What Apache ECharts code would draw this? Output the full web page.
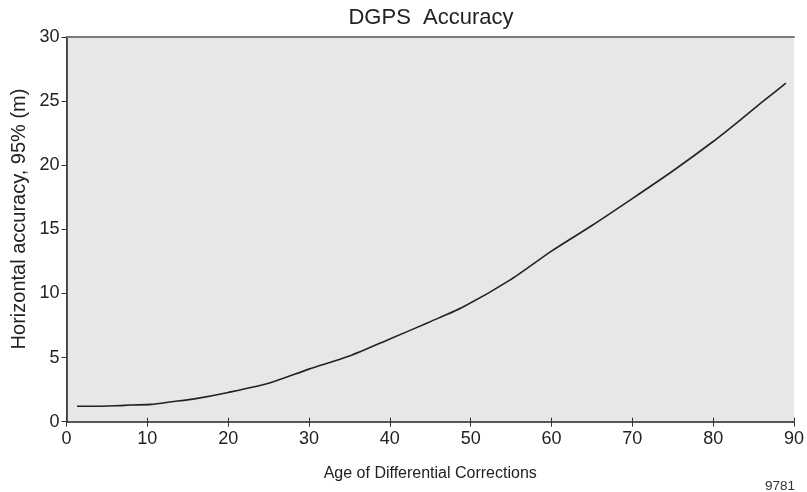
<!DOCTYPE html>
<html>
<head>
<meta charset="utf-8">
<script src="https://cdn.jsdelivr.net/npm/echarts@6/dist/echarts.min.js"></script>
<style>html,body{margin:0;padding:0;background:#fff}#c{width:807px;height:492px}</style>
</head>
<body>
<div id="c"></div>
<script>
const ageValues = [1.3, 3, 6, 8, 10.5, 13, 16, 20, 25, 30, 35, 40, 45, 49, 55, 60, 65, 70, 75, 80, 83, 86, 89];
const accuracyValues = [1.2, 1.2, 1.24, 1.3, 1.35, 1.55, 1.8, 2.28, 3.0, 4.1, 5.12, 6.45, 7.8, 8.92, 11.1, 13.3, 15.3, 17.4, 19.55, 21.85, 23.35, 24.9, 26.4];
const xTicks = [0, 10, 20, 30, 40, 50, 60, 70, 80, 90];
const yTicks = [0, 5, 10, 15, 20, 25, 30];
const titleText = 'DGPS  Accuracy';
const xName = 'Age of Differential Corrections';
const yName = 'Horizontal accuracy, 95% (m)';
const figId = '9781';

const font = 'Liberation Sans, Arial, Helvetica, sans-serif';
const chart = echarts.init(document.getElementById('c'));
const pts = ageValues.map((x, i) => [x, accuracyValues[i]]);
chart.setOption({
  animation: false,
  title: [{
    text: titleText, left: 426, top: 2, textAlign: 'center',
    textStyle: {fontFamily: font, fontSize: 22, fontWeight: 'normal', color: '#222'}
  }, {
    text: figId, right: 7, top: 474,
    textStyle: {fontFamily: font, fontSize: 13.5, fontWeight: 'normal', color: '#333'}
  }],
  graphic: [{
    type: 'text', x: 19, y: 219, rotation: Math.PI / 2,
    style: {text: yName, fontFamily: font, fontSize: 20, fill: '#222',
            textAlign: 'center', textVerticalAlign: 'middle'}
  }],
  grid: {left: 66.5, right: 12.5, top: 37, bottom: 70.3, show: true,
         backgroundColor: '#e6e7e9', borderWidth: 0},
  xAxis: [{
    type: 'value', min: xTicks[0], max: xTicks[xTicks.length-1], interval: 10,
    position: 'bottom',
    name: xName, nameLocation: 'middle', nameGap: 44,
    nameTextStyle: {fontFamily: font, fontSize: 16, color: '#222'},
    axisLine: {show: true, lineStyle: {color: '#222', width: 1.5}},
    axisTick: {show: true, length: 5, inside: false, lineStyle: {color: '#333', width: 1}},
    axisLabel: {fontFamily: font, fontSize: 18, color: '#222', margin: 8},
    splitLine: {show: false}
  }, {
    type: 'value', min: xTicks[0], max: xTicks[xTicks.length-1], interval: 10,
    position: 'bottom',
    axisLine: {show: false},
    axisTick: {show: true, length: 4, inside: true, lineStyle: {color: '#333', width: 1}},
    axisLabel: {show: false},
    splitLine: {show: false}
  }, {
    type: 'value', min: xTicks[0], max: xTicks[xTicks.length-1],
    position: 'top',
    axisLine: {show: true, lineStyle: {color: '#7a7a7a', width: 2}},
    axisTick: {show: false}, axisLabel: {show: false}, splitLine: {show: false}
  }],
  yAxis: [{
    type: 'value', min: yTicks[0], max: yTicks[yTicks.length-1], interval: 5,
    position: 'left',
    axisLine: {show: true, lineStyle: {color: '#222', width: 1.5}},
    axisTick: {show: true, length: 5, inside: false, lineStyle: {color: '#333', width: 1}},
    axisLabel: {fontFamily: font, fontSize: 18, color: '#222', margin: 7},
    splitLine: {show: false}
  }, {
    type: 'value', min: yTicks[0], max: yTicks[yTicks.length-1],
    position: 'right',
    axisLine: {show: true, lineStyle: {color: '#444', width: 1}},
    axisTick: {show: false}, axisLabel: {show: false}, splitLine: {show: false}
  }],
  series: [{
    type: 'line', data: pts, xAxisIndex: 0, yAxisIndex: 0,
    showSymbol: false, smooth: 0.25,
    lineStyle: {color: '#222', width: 1.6}
  }]
});
</script>
</body>
</html>
